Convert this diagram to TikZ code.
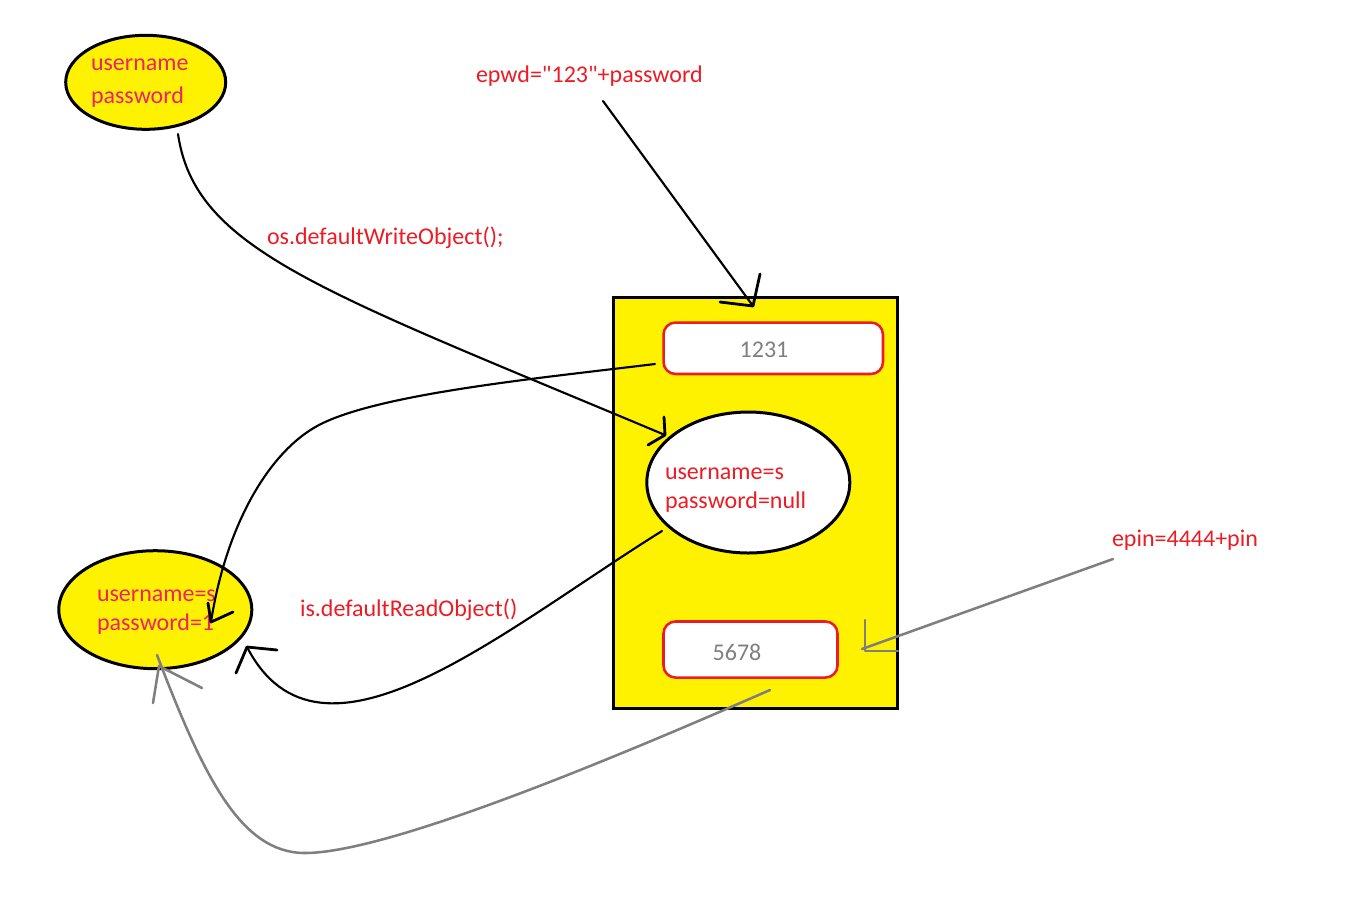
\documentclass[tikz,border=0pt]{standalone}
\usepackage{fontspec}
\setmainfont{Carlito}
\usetikzlibrary{shapes.geometric}
\definecolor{paintyellow}{HTML}{FFF200}
\definecolor{paintred}{HTML}{ED1C24}
\definecolor{paintpink}{HTML}{F0206A}
\definecolor{paintgray}{HTML}{7F7F7F}
% straight double quote, set as a glyph so the TeX ligature mapping leaves it alone
\newcommand\straightdq{\XeTeXglyph\XeTeXcharglyph"22\relax}

\begin{document}
\begin{tikzpicture}[x=0.75pt,y=-0.75pt,
  every node/.style={inner sep=0pt, outer sep=0pt},
  txt/.style={font=\fontsize{18}{21}\selectfont, text=paintred, anchor=base west},
  pinktxt/.style={txt, text=paintpink},
  valtxt/.style={font=\fontsize{18}{21}\selectfont, text=paintgray, anchor=base},
  obj/.style={ellipse, draw=black, line width=2.25pt},
  cell/.style={rectangle, draw=paintred, fill=white, line width=1.9pt, rounded corners=9pt},
  flow/.style={draw=black, line width=1.6pt, line cap=round, line join=round},
  wing/.style={draw=black, line width=2.1pt, line cap=round, line join=round},
  gflow/.style={draw=paintgray, line width=1.9pt, line cap=round, line join=round}
]
\useasboundingbox (0,0) rectangle (1358,908);
\fill[white] (0,0) rectangle (1358,908);

% object being written
\node[obj, fill=paintyellow, minimum width=120pt, minimum height=70.5pt] (src) at (145.7,82.3) {};
\node[pinktxt] (srcU) at (91,70) {username};
\node[pinktxt] (srcP) at (91,103) {password};

% object after reading
\node[obj, fill=paintyellow, minimum width=144.75pt, minimum height=88.5pt] (dst) at (155.3,609.7) {};
\node[pinktxt] (dstU) at (97,601) {username=s};
\node[pinktxt] (dstP) at (97,630) {password=1};

% serialized stream
\node[rectangle, draw=black, fill=paintyellow, line width=2.25pt,
      minimum width=213pt, minimum height=308.25pt] (stream) at (755,502.5) {};
\node[cell, minimum width=164.6pt, minimum height=38.6pt] (pwdcell) at (773.25,348.25) {};
\node[valtxt] (pwdval) at (764,357) {1231};
\node[obj, fill=white, minimum width=152.25pt, minimum height=105.75pt] (fields) at (748.3,482.5) {};
\node[txt] (fieldsU) at (665,479.5) {username=s};
\node[txt] (fieldsP) at (665,508.5) {password=null};
\node[cell, minimum width=130.5pt, minimum height=42pt] (pincell) at (750.5,649.5) {};
\node[valtxt] (pinval) at (737,660) {5678};

% labels
\node[txt] (epwd) at (476,82) {epwd=\straightdq123\straightdq+password};
\node[txt] (wlabel) at (267,244) {os.defaultWriteObject();};
\node[txt] (rlabel) at (300,616) {is.defaultReadObject()};
\node[txt] (epin) at (1112,546) {epin=4444+pin};

% connector end points
\coordinate (aS) at (178,134);
\coordinate (aT) at (665,435);
\coordinate (bS) at (603,101);
\coordinate (bT) at (753,306);
\coordinate (cS) at (655,364);
\coordinate (cM) at (323,423);
\coordinate (cT) at (211,622);
\coordinate (dS) at (662,531);
\coordinate (dT) at (247,647);
\coordinate (eS) at (1113,559);
\coordinate (eT) at (862,649);
\coordinate (fS) at (770,690);
\coordinate (fM) at (305,853);
\coordinate (fT) at (157,655);
\coordinate (fW) at (159,666);

% writeObject
\path[flow] (aS) .. controls (195,250) and (320,290) .. (aT);
\path[wing] (664,417) -- (aT) -- (648,445);
% encrypted password
\path[flow] (bS) -- (bT);
\path[wing] (760,274) -- (bT) -- (720,302);
% readback of 1231
\path[flow] (cS) .. controls (540,378) and (386,393) .. (cM)
                 .. controls (270,448) and (226,525) .. (cT);
\path[wing] (208,603) -- (cT) -- (233,612);
% readObject
\path[flow] (dS) .. controls (500,632) and (320,788) .. (dT);
\path[wing] (277,650) -- (dT) -- (236,673);
% encrypted pin
\path[gflow] (eS) -- (eT);
\path[gflow] (865,620) -- (865,651) -- (898,651);
% readback of 5678
\path[gflow] (fS) .. controls (626,753) and (390,853) .. (fM)
                 .. controls (240,853) and (203,775) .. (fT);
\path[gflow] (153,703) -- (fW) -- (202,688);
\end{tikzpicture}
\end{document}
